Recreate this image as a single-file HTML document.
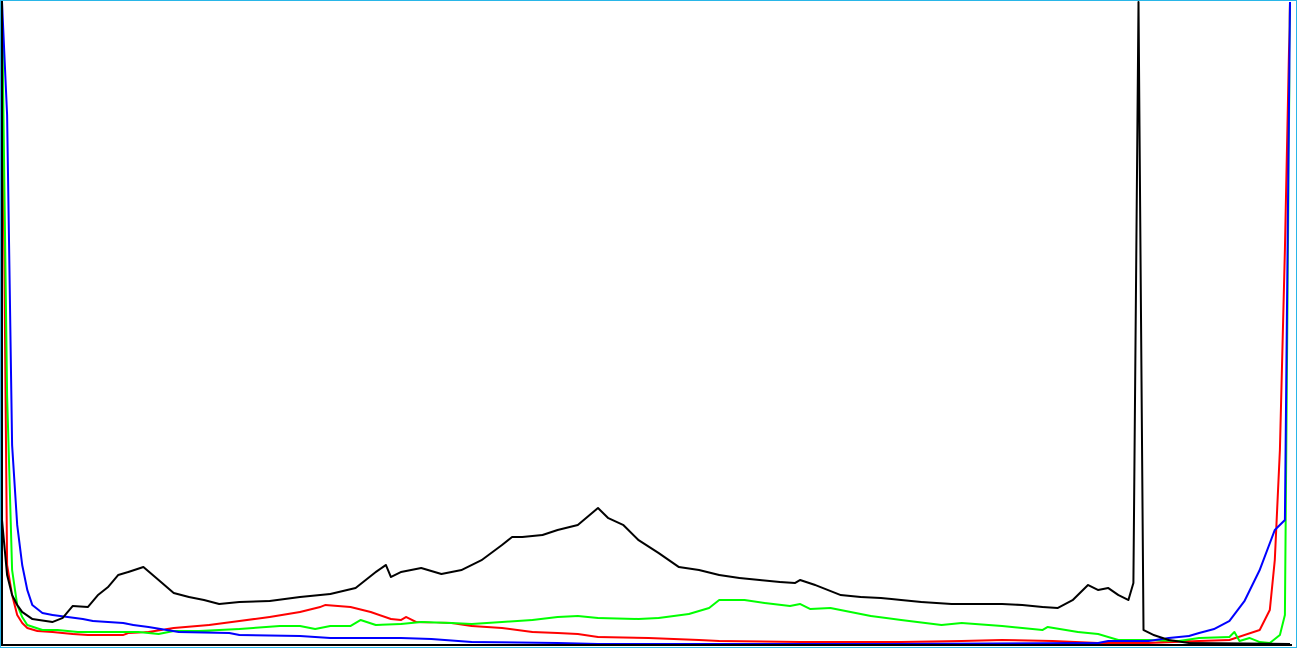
<!DOCTYPE html>
<html><head><meta charset="utf-8"><style>
html,body{margin:0;padding:0;background:#fff;}
#c{position:absolute;left:0;top:0;width:1297px;height:648px;}
</style></head><body>
<svg id="c" width="1297" height="648" viewBox="0 0 1297 648">
<rect x="0.5" y="0.5" width="1296" height="647" fill="#fff" stroke="#29b6e8" stroke-width="1"/>
<g id="series"></g>
<line x1="2" y1="1" x2="2" y2="645" stroke="#000" stroke-width="2"/>
<line x1="1" y1="645" x2="1292" y2="645" stroke="#000" stroke-width="2"/>
</svg>
<script>
const redBins=[0,1,2,3,4,5,7,10,14,17,24,25,29,34,41,47,53,59,63,64,69,73,77,79,80,82,89,93,99,105,110,114,118,128,138,142,158,178,190,198,208,217,227,237,243,249,251,252,253,254,255];
const redVals=[643,80,50,30,22,17,14,13,11,10,10,12,13,17,20,24,28,33,38,40,38,33,26,25,28,23,22,19,17,13,12,11,8,7,5,4,3,3,4,5,4,2,2,4,5,15,35,85,195,395,643];
const greenBins=[0,1,2,3,4,5,8,11,15,19,27,31,34,39,47,55,59,62,65,69,71,74,79,83,89,93,99,105,110,114,118,126,130,136,140,142,147,151,156,158,160,164,168,172,178,186,190,198,206,207,213,217,221,227,233,237,243,244,245,247,249,251,253,254,255];
const greenVals=[643,250,75,40,28,20,15,15,13,13,13,11,14,14,16,19,19,16,19,19,25,20,21,23,22,21,23,25,28,29,27,26,27,31,37,45,45,42,39,41,36,37,33,29,25,20,22,19,15,18,13,11,5,5,4,7,8,13,4,7,3,2,10,30,643];
const blueBins=[0,1,2,3,4,5,6,8,10,13,16,18,24,26,29,35,45,47,59,65,79,85,93,110,118,175,217,219,227,231,235,237,240,243,246,249,252,254,255];
const blueVals=[643,530,200,120,80,55,40,32,30,28,26,24,22,20,18,13,12,10,9,7,7,6,3,2,1,1,2,4,4,7,9,12,16,24,44,75,115,125,643];
const blackBins=[0,1,2,3,4,6,10,12,14,17,19,21,23,25,28,31,34,37,40,43,47,53,59,65,70,74,76,77,79,83,87,91,95,99,101,103,107,110,114,118,120,123,126,130,134,138,142,146,150,154,157,158,161,166,170,174,178,182,188,198,202,206,209,212,215,217,219,221,223,224,225,226,228,231,235,255];
const blackVals=[125,70,50,40,33,26,23,27,39,38,50,58,70,73,78,65,52,48,45,41,43,44,48,51,57,73,80,68,73,77,71,75,85,100,108,108,110,115,120,137,127,120,105,92,78,75,70,67,65,63,62,65,60,50,48,47,45,43,41,41,40,38,37,45,60,55,57,50,45,62,643,15,10,5,2,1];
const X0=2,X1=1290,Y0=645,Y1=2,VMAX=643,BMAX=255;
function xs(b){return X0+(X1-X0)*b/BMAX;}
function ys(v){return Y0-(Y0-Y1)*v/VMAX;}
const g=document.getElementById('series');
function draw(bins,vals,color,name){
  const p=document.createElementNS('http://www.w3.org/2000/svg','polyline');
  p.setAttribute('points',bins.map((b,i)=>xs(b).toFixed(1)+','+ys(vals[i]).toFixed(1)).join(' '));
  p.setAttribute('fill','none');p.setAttribute('stroke',color);p.setAttribute('stroke-width','2');
  p.setAttribute('stroke-linejoin','round');
  
  
  g.appendChild(p);
}
draw(redBins,redVals,'#ff0000','red-channel-line');
draw(greenBins,greenVals,'#00ff00','green-channel-line');
draw(blueBins,blueVals,'#0000ff','blue-channel-line');
draw(blackBins,blackVals,'#000000','luminance-line');
</script>
</body></html>
